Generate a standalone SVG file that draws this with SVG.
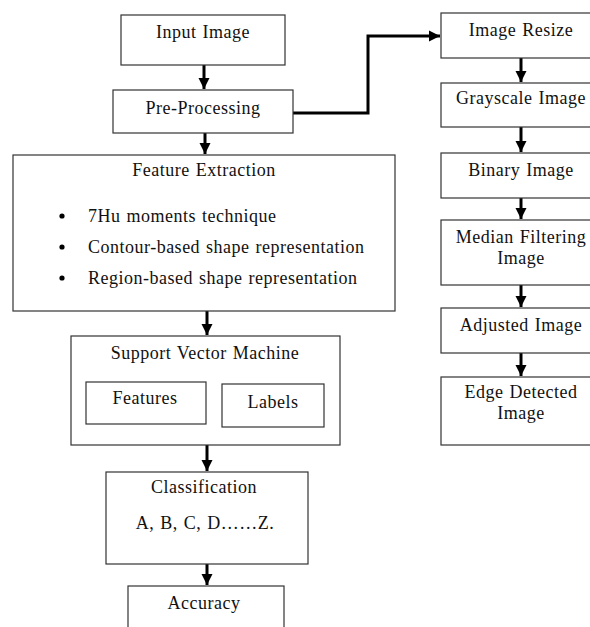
<svg xmlns="http://www.w3.org/2000/svg" width="590" height="627" viewBox="0 0 590 627">
<defs>
<style>
.box{fill:#fff;stroke:#333;stroke-width:1.2}
.t{font-family:"Liberation Serif","Times New Roman",serif;font-size:18px;letter-spacing:0.5px;word-spacing:1px;fill:#111}
.m{text-anchor:middle}
.c{fill:none;stroke:#000;stroke-width:3}
</style>
<marker id="ah" markerUnits="userSpaceOnUse" markerWidth="12" markerHeight="12" viewBox="0 0 12 12" refX="11" refY="6" orient="auto">
<path d="M0,0.5 L11,6 L0,11.5 Z" fill="#000"/>
</marker>
</defs>
<rect width="590" height="627" fill="#fff"/>
<g id="connectors">
<path class="c" d="M204,65 V89" marker-end="url(#ah)"/>
<path class="c" d="M205,133 V154" marker-end="url(#ah)"/>
<path class="c" d="M207,311 V335" marker-end="url(#ah)"/>
<path class="c" d="M207,445 V471" marker-end="url(#ah)"/>
<path class="c" d="M207,564 V585" marker-end="url(#ah)"/>
<path class="c" d="M293,113 H368 V36 H440" marker-end="url(#ah)"/>
<path class="c" d="M521,58 V82" marker-end="url(#ah)"/>
<path class="c" d="M521,127 V152" marker-end="url(#ah)"/>
<path class="c" d="M521,198 V219" marker-end="url(#ah)"/>
<path class="c" d="M521,285 V307" marker-end="url(#ah)"/>
<path class="c" d="M521,353 V376" marker-end="url(#ah)"/>
</g>
<g id="input-image">
<rect class="box" x="121" y="15" width="164" height="50"/>
<text class="t m" x="203" y="38">Input Image</text>
</g>
<g id="pre-processing">
<rect class="box" x="113" y="90" width="180" height="43"/>
<text class="t m" x="203" y="114">Pre-Processing</text>
</g>
<g id="feature-extraction">
<rect class="box" x="13" y="155" width="382" height="156"/>
<text class="t m" x="204" y="176">Feature Extraction</text>
<circle cx="62" cy="216" r="2.6" fill="#000"/>
<circle cx="62" cy="247" r="2.6" fill="#000"/>
<circle cx="62" cy="278" r="2.6" fill="#000"/>
<text class="t" x="88" y="222">7Hu moments technique</text>
<text class="t" x="88" y="253">Contour-based shape representation</text>
<text class="t" x="88" y="284">Region-based shape representation</text>
</g>
<g id="svm">
<rect class="box" x="71" y="336" width="269" height="109"/>
<text class="t m" x="205" y="359">Support Vector Machine</text>
</g>
<g id="features">
<rect class="box" x="86" y="382" width="120" height="42"/>
<text class="t m" x="145" y="404">Features</text>
</g>
<g id="labels">
<rect class="box" x="222" y="384" width="102" height="43"/>
<text class="t m" x="273" y="408">Labels</text>
</g>
<g id="classification">
<rect class="box" x="106" y="472" width="202" height="92"/>
<text class="t m" x="204" y="493">Classification</text>
<text class="t m" x="205" y="529">A, B, C, D……Z.</text>
</g>
<g id="accuracy">
<rect class="box" x="128" y="586" width="156" height="60"/>
<text class="t m" x="204" y="609">Accuracy</text>
</g>
<g id="image-resize">
<rect class="box" x="441" y="13" width="160" height="45"/>
<text class="t m" x="521" y="36">Image Resize</text>
</g>
<g id="grayscale-image">
<rect class="box" x="441" y="83" width="160" height="44"/>
<text class="t m" x="521" y="104">Grayscale Image</text>
</g>
<g id="binary-image">
<rect class="box" x="441" y="153" width="160" height="45"/>
<text class="t m" x="521" y="176">Binary Image</text>
</g>
<g id="median-filtering-image">
<rect class="box" x="441" y="220" width="160" height="65"/>
<text class="t m" x="521" y="243">Median Filtering</text>
<text class="t m" x="521" y="264">Image</text>
</g>
<g id="adjusted-image">
<rect class="box" x="441" y="308" width="160" height="45"/>
<text class="t m" x="521" y="331">Adjusted Image</text>
</g>
<g id="edge-detected-image">
<rect class="box" x="441" y="377" width="160" height="68"/>
<text class="t m" x="521" y="398">Edge Detected</text>
<text class="t m" x="521" y="419">Image</text>
</g>
</svg>
